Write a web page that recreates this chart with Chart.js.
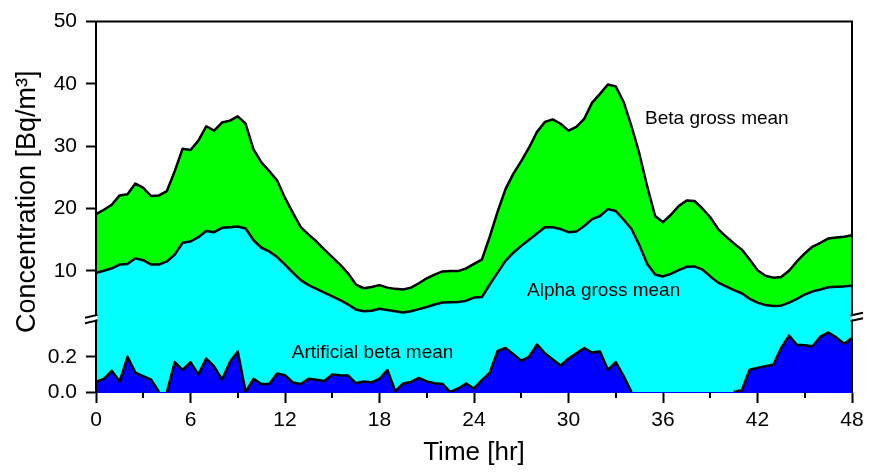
<!DOCTYPE html>
<html>
<head>
<meta charset="utf-8">
<script src="https://cdn.jsdelivr.net/npm/chart.js@4/dist/chart.umd.min.js"></script>
<style>
  html, body { margin: 0; padding: 0; background: #fff; }
  #c { display: block; }
</style>
</head>
<body>
<canvas id="c" width="872" height="473"></canvas>
<script>
// ---------- DATA (0.5 h sampling) ----------
const STEP_HR = 0.5;

const betaGross = [
  19.1, 19.8, 20.6, 22.1, 22.3, 24.0, 23.3, 22.0, 22.1, 22.8,
  26.0, 29.6, 29.4, 30.9, 33.2, 32.5, 33.8, 34.1, 34.8, 33.6,
  29.5, 27.4, 26.0, 24.5, 21.7, 19.3, 17.0, 15.8, 14.7, 13.4,
  12.2, 11.0, 9.6, 7.8, 7.2, 7.4, 7.7, 7.3, 7.1, 7.0,
  7.3, 8.0, 8.8, 9.4, 9.9, 9.95, 9.95, 10.4, 11.1, 11.8,
  15.5, 19.5, 23.1, 25.6, 27.6, 29.8, 32.3, 33.9, 34.3, 33.6,
  32.5, 33.1, 34.4, 37.0, 38.4, 39.9, 39.6, 37.1, 33.2, 28.8,
  23.5, 18.8, 17.8, 19.0, 20.4, 21.3, 21.2, 20.0, 18.6, 16.7,
  15.5, 14.4, 13.4, 11.8, 10.1, 9.2, 8.9, 9.0, 10.0, 11.5,
  12.8, 13.9, 14.5, 15.2, 15.35, 15.45, 15.7
];

const alphaGross = [
  9.7, 10.0, 10.4, 11.0, 11.1, 12.0, 11.7, 11.0, 11.0, 11.5,
  12.6, 14.5, 14.7, 15.4, 16.4, 16.2, 16.9, 17.0, 17.1, 16.8,
  14.9, 13.7, 13.1, 12.2, 11.0, 9.7, 8.5, 7.7, 7.1, 6.5,
  5.9, 5.3, 4.6, 3.8, 3.5, 3.6, 3.9, 3.7, 3.5, 3.3,
  3.5, 3.85, 4.2, 4.6, 4.9, 4.95, 5.0, 5.2, 5.7, 5.8,
  7.8, 9.7, 11.6, 12.9, 14.0, 15.0, 16.0, 17.0, 17.0, 16.7,
  16.2, 16.3, 17.2, 18.3, 18.8, 19.9, 19.6, 18.2, 16.7, 14.1,
  11.1, 9.4, 9.1, 9.5, 10.1, 10.65, 10.7, 10.2, 9.1, 8.1,
  7.5, 6.9, 6.4, 5.5, 4.9, 4.5, 4.35, 4.4, 4.9, 5.5,
  6.2, 6.7, 7.0, 7.35, 7.45, 7.5, 7.6
];

const artificialBeta = [
  0.057, 0.075, 0.12, 0.06, 0.20, 0.11, 0.09, 0.07, 0, 0,
  0.17, 0.125, 0.17, 0.10, 0.19, 0.145, 0.07, 0.17, 0.23, 0,
  0.075, 0.045, 0.045, 0.105, 0.095, 0.054, 0.045, 0.075, 0.07, 0.063,
  0.10, 0.095, 0.094, 0.05, 0.06, 0.055, 0.075, 0.125, 0.005, 0.048,
  0.057, 0.08, 0.06, 0.05, 0.046, 0, 0.02, 0.048, 0.02, 0.067,
  0.11, 0.233, 0.25, 0.215, 0.178, 0.2, 0.27, 0.22, 0.185, 0.15,
  0.19, 0.22, 0.25, 0.224, 0.23, 0.126, 0.17, 0.09, 0, 0,
  0, 0, 0, 0, 0, 0, 0, 0, 0, 0,
  0, 0, 0.01, 0.126, 0.137, 0.147, 0.155, 0.25, 0.32, 0.268,
  0.265, 0.26, 0.315, 0.338, 0.31, 0.274, 0.307
];

const hours = betaGross.map((_, i) => i * STEP_HR);

const xMajorTicks = [0, 6, 12, 18, 24, 30, 36, 42, 48];
const xMinorTicks = [3, 9, 15, 21, 27, 33, 39, 45];
const yUpperTicks = [10, 20, 30, 40, 50];
const yLowerTicks = [0.0, 0.2];

const seriesNames = ['Beta gross mean', 'Alpha gross mean', 'Artificial beta mean'];

// ---------- STYLE / LAYOUT ----------
const GREEN = '#00ff00', CYAN = '#00ffff', BLUE = '#0000ff', BLACK = '#000000';
const FONT = "'Liberation Sans', Arial, sans-serif";
const UPPER_RANGE = [2.39, 50];
const LOWER_RANGE = [0, 0.419];
const LINE_W = 2.5;

const labelSpots = [
  { text: seriesNames[0], t: 34.86, v: 33.5, axis: 'yTop' },
  { text: seriesNames[1], t: 27.37, v: 5.92, axis: 'yTop' },
  { text: seriesNames[2], t: 12.43, v: 0.193, axis: 'yBot' }
];

const pts = arr => arr.map((v, i) => ({ x: hours[i], y: v }));

const tickFont = { family: FONT, size: 21 };

function yAxis(range, ticks, weight, fmt) {
  return {
    type: 'linear',
    position: 'left',
    stack: 'conc',
    stackWeight: weight,
    min: range[0],
    max: range[1],
    afterBuildTicks: s => { s.ticks = ticks.map(v => ({ value: v })); },
    afterFit: s => { s.width = 96; },
    ticks: { font: tickFont, color: BLACK, padding: 9, callback: fmt },
    grid: { display: true, drawOnChartArea: false, tickLength: 10, tickWidth: 2, tickColor: BLACK },
    border: { display: true, color: BLACK, width: 2, z: 1 }
  };
}

const decorPlugin = {
  id: 'decor',
  beforeDatasetsDraw(chart) {
    // continuation of the alpha area inside the lower (broken) axis segment
    const { ctx, chartArea: a, scales: { x, yBot } } = chart;
    ctx.save();
    ctx.beginPath();
    ctx.rect(a.left, yBot.top - 2, a.right - a.left, yBot.bottom - yBot.top + 2);
    ctx.clip();
    ctx.beginPath();
    ctx.moveTo(x.getPixelForValue(hours[0]), yBot.getPixelForValue(0));
    alphaGross.forEach((v, i) => ctx.lineTo(x.getPixelForValue(hours[i]), yBot.getPixelForValue(v)));
    ctx.lineTo(x.getPixelForValue(hours[hours.length - 1]), yBot.getPixelForValue(0));
    ctx.closePath();
    ctx.fillStyle = CYAN;
    ctx.fill();
    ctx.restore();
  },
  afterDraw(chart) {
    const { ctx, chartArea: a, scales: { x, yTop } } = chart;
    ctx.save();
    // frame: top and right
    ctx.strokeStyle = BLACK;
    ctx.lineWidth = 2;
    ctx.beginPath();
    ctx.moveTo(a.left - 1, a.top);
    ctx.lineTo(a.right + 1, a.top);
    ctx.moveTo(a.right, a.top);
    ctx.lineTo(a.right, a.bottom);
    ctx.stroke();

    // minor x ticks
    ctx.beginPath();
    xMinorTicks.forEach(t => {
      const px = Math.round(x.getPixelForValue(t));
      ctx.moveTo(px, a.bottom);
      ctx.lineTo(px, a.bottom + 6);
    });
    ctx.stroke();

    // axis breaks
    const yb = yTop.bottom;
    const drawBreak = (ax, dir) => {
      const x0 = ax - dir * 1.5, x1 = ax + dir * 11;
      const yUp = xx => yb - 3 - (xx - ax) * 0.23;
      const yLo = xx => yb + 2.5 - (xx - ax) * 0.23;
      ctx.fillStyle = '#ffffff';
      ctx.beginPath();
      ctx.moveTo(x0, yUp(x0) + 1);
      ctx.lineTo(x1, yUp(x1) + 1);
      ctx.lineTo(x1, yLo(x1) - 1);
      ctx.lineTo(x0, yLo(x0) - 1);
      ctx.closePath();
      ctx.fill();
      ctx.strokeStyle = BLACK;
      ctx.lineWidth = 2;
      ctx.beginPath();
      ctx.moveTo(x0, yUp(x0)); ctx.lineTo(x1, yUp(x1));
      ctx.moveTo(x0, yLo(x0)); ctx.lineTo(x1, yLo(x1));
      ctx.stroke();
    };
    drawBreak(a.left, -1);
    drawBreak(a.right, 1);

    // series labels
    ctx.fillStyle = BLACK;
    ctx.font = `19px ${FONT}`;
    ctx.textAlign = 'left';
    ctx.textBaseline = 'alphabetic';
    labelSpots.forEach(l => {
      const sc = chart.scales[l.axis];
      ctx.fillText(l.text, x.getPixelForValue(l.t), sc.getPixelForValue(l.v));
    });

    // y axis title (spans both segments)
    ctx.font = `27px ${FONT}`;
    ctx.textAlign = 'center';
    ctx.translate(35, (a.top + a.bottom) / 2 - 5);
    ctx.rotate(-Math.PI / 2);
    ctx.fillText('Concentration [Bq/m\u00B3]', 0, 0);
    ctx.restore();
  }
};

new Chart(document.getElementById('c'), {
  type: 'line',
  data: {
    datasets: [
      {
        label: seriesNames[0], data: pts(betaGross), yAxisID: 'yTop',
        borderColor: BLACK, borderWidth: LINE_W, backgroundColor: GREEN,
        fill: 'start', pointRadius: 0, tension: 0, order: 3,
        borderJoinStyle: 'round'
      },
      {
        label: seriesNames[1], data: pts(alphaGross), yAxisID: 'yTop',
        borderColor: BLACK, borderWidth: LINE_W, backgroundColor: CYAN,
        fill: 'start', pointRadius: 0, tension: 0, order: 2,
        borderJoinStyle: 'round'
      },
      {
        label: seriesNames[2], data: pts(artificialBeta), yAxisID: 'yBot',
        borderColor: BLACK, borderWidth: LINE_W, backgroundColor: BLUE,
        fill: 'origin', pointRadius: 0, tension: 0, order: 1,
        borderJoinStyle: 'round',
        segment: {
          borderColor: c => (c.p0.parsed.y === 0 && c.p1.parsed.y === 0) ? 'rgba(0,0,0,0)' : undefined
        }
      }
    ]
  },
  options: {
    responsive: false,
    animation: false,
    devicePixelRatio: 1,
    layout: { padding: { top: 13, right: 20, left: 0, bottom: 0 } },
    plugins: { legend: { display: false }, tooltip: { enabled: false } },
    scales: {
      x: {
        type: 'linear', min: 0, max: 48,
        afterBuildTicks: s => { s.ticks = xMajorTicks.map(v => ({ value: v })); },
        afterFit: s => { s.height = 81; },
        ticks: { font: tickFont, color: BLACK, padding: 5, maxRotation: 0, callback: v => String(v) },
        grid: { display: true, drawOnChartArea: false, tickLength: 11, tickWidth: 2, tickColor: BLACK },
        border: { display: true, color: BLUE, width: 1 },
        title: { display: true, text: 'Time [hr]', color: BLACK, font: { family: FONT, size: 26 }, padding: { top: 0, bottom: 5 } }
      },
      yBot: yAxis(LOWER_RANGE, yLowerTicks, 75.5, v => Number(v).toFixed(1)),
      yTop: yAxis(UPPER_RANGE, yUpperTicks, 303.5, v => String(v))
    }
  },
  plugins: [decorPlugin]
});
</script>
</body>
</html>
